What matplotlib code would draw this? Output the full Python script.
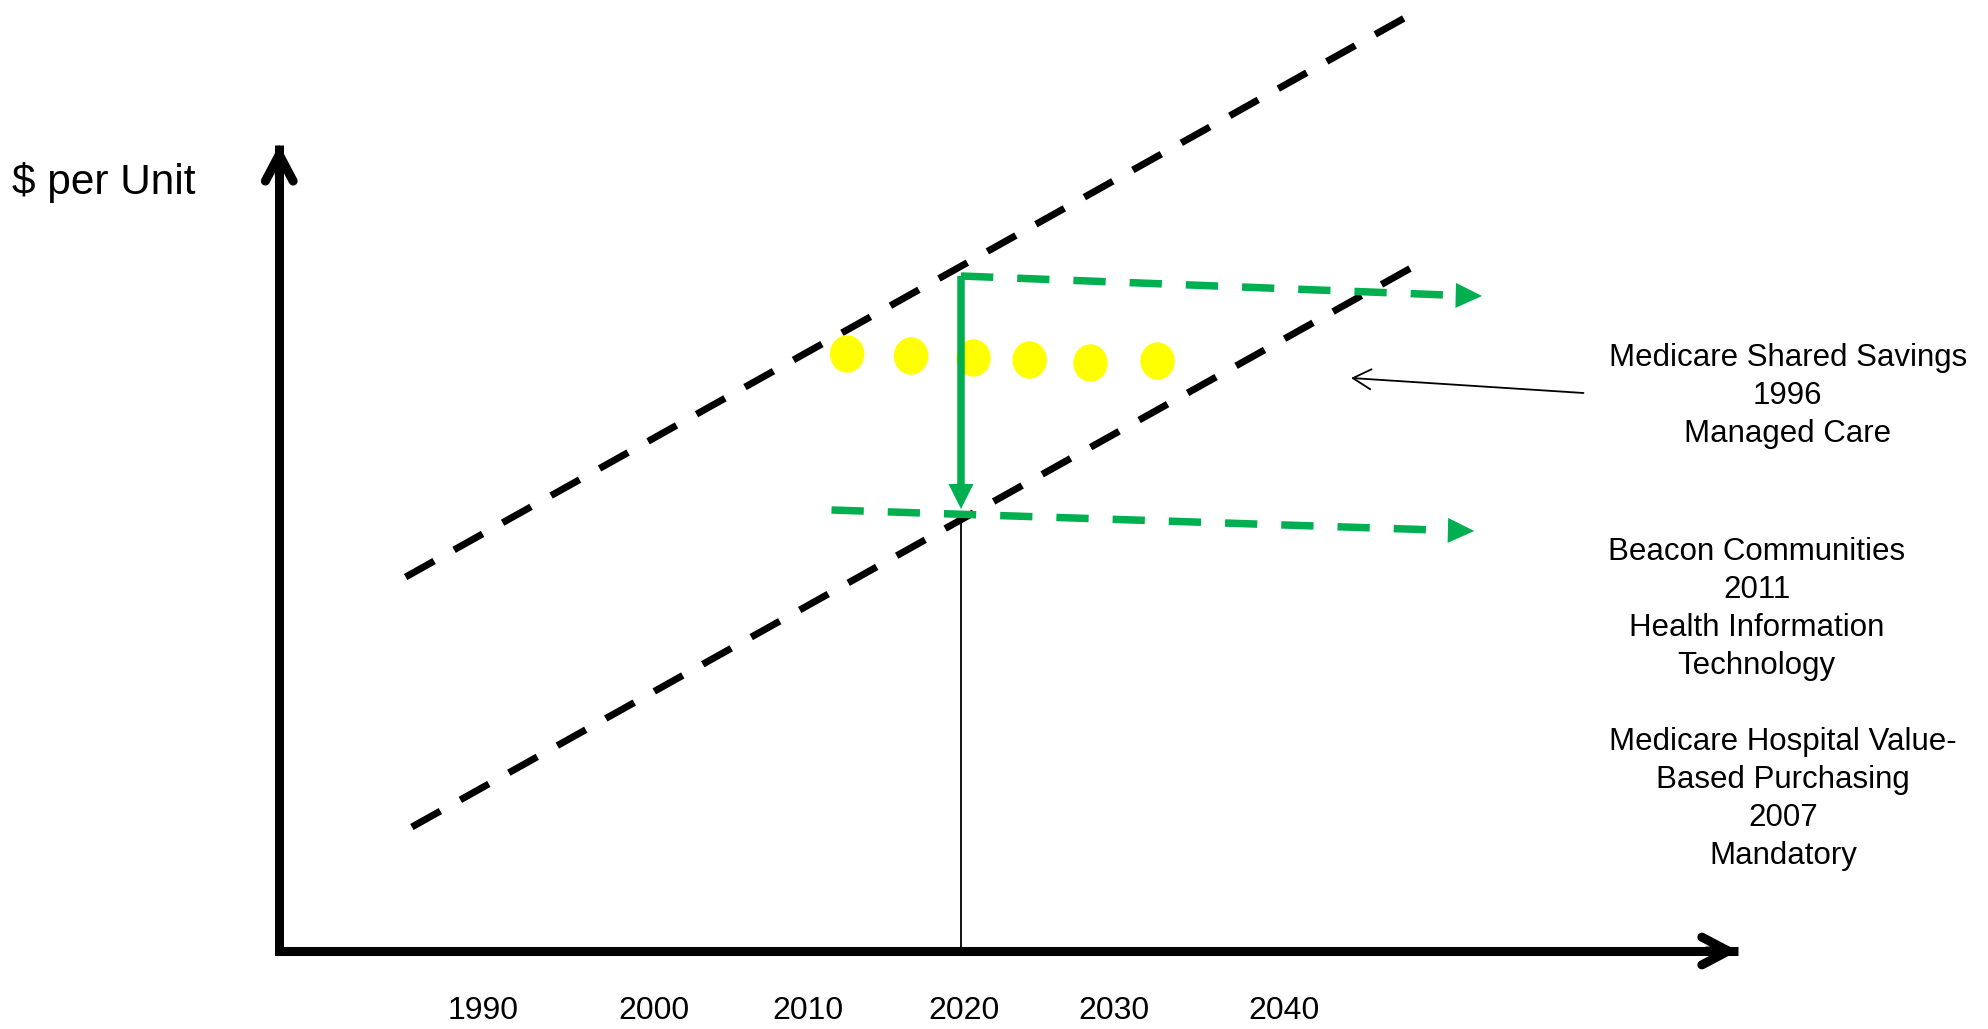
import matplotlib
matplotlib.use("Agg")
import matplotlib.pyplot as plt
from matplotlib.patches import Ellipse

plt.rcParams["font.family"] = ["Liberation Sans", "DejaVu Sans"]

# -*- values (x in years, y in arbitrary $ per unit)
years = [1990, 2000, 2010, 2020, 2030, 2040]
year_label_x = [1989.4, 2000.3, 2010.2, 2020.2, 2029.8, 2040.7]
origin_year = 1976.3
axis_end_year = 2069.8
axis_top = 80.6

# two parallel cost trend lines (start/end year and value)
trend_years = [1984.4, 2049.0]
trend_high = [37.4, 93.8]
trend_low_years = [1984.8, 2049.3]
trend_low = [12.4, 68.7]

# green: drop from high to low trend in 2020, then flattened paths
drop_year = 2020
drop_from, drop_to = 67.5, 44.2
flat_high_years = [2020, 2053.4]
flat_high = [67.5, 65.5]
flat_low_years = [2011.7, 2052.9]
flat_low = [44.1, 42.0]

# yellow dots
dot_years = [2012.7, 2016.8, 2020.8, 2024.4, 2028.3, 2032.6]
dot_vals = [59.7, 59.5, 59.3, 59.1, 58.8, 59.0]

# pointer arrow to the programme list
pointer_tail = (2059.9, 55.8)
pointer_tip = (2045.0, 57.3)

programmes = [
    "Medicare Shared Savings\n1996\nManaged Care",
    "Beacon Communities\n2011\nHealth Information\nTechnology",
    "Medicare Hospital Value-\nBased Purchasing\n2007\nMandatory",
]
programme_x = [2073.0, 2071.0, 2072.7]
programme_y = [55.5, 34.2, 15.2]

GREEN = "#00B050"
YELLOW = "#FFFF00"

fig = plt.figure(figsize=(19.88, 10.29), dpi=100)
ax = fig.add_axes([0, 0, 1, 1])
ax.set_xlim(1958.4, 2085.83)
ax.set_ylim(-7.8, 95.1)
ax.axis("off")


def head(tail, tip, style, color, lw, **kw):
    ax.annotate("", xy=tip, xytext=tail,
                arrowprops=dict(arrowstyle=style, color=color, lw=lw,
                                shrinkA=0, shrinkB=0, mutation_scale=20, **kw))


# axes with open arrow heads
ax.plot([origin_year, origin_year, axis_end_year], [axis_top, 0, 0],
        color="black", lw=6.5, solid_joinstyle="miter", solid_capstyle="butt")
head((origin_year, axis_top - 3), (origin_year, axis_top), "->,head_length=0.95,head_width=0.5",
     "black", 6.5, capstyle="round", joinstyle="miter")
head((axis_end_year - 2, 0), (axis_end_year, 0), "->,head_length=0.95,head_width=0.5",
     "black", 6.5, capstyle="round", joinstyle="miter")

# dashed trend lines
ax.plot(trend_years, trend_high, color="black", lw=5, dashes=(4.7, 3.3))
ax.plot(trend_low_years, trend_low, color="black", lw=5, dashes=(4.7, 3.3))

# thin marker at 2020
ax.plot([drop_year, drop_year], [0, drop_to - 0.6], color="black", lw=1.3)

# yellow dots
for x, y in zip(dot_years, dot_vals):
    ax.add_patch(Ellipse((x, y), 2.12, 3.6, color=YELLOW, zorder=3))

# green drop arrow
ax.plot([drop_year, drop_year], [drop_from, drop_to + 2.0], color=GREEN, lw=5.4,
        solid_capstyle="butt", zorder=4)
head((drop_year, drop_to + 2.6), (drop_year, drop_to), "-|>,head_length=0.9,head_width=0.45",
     GREEN, 0, zorder=4)

# green flattened paths
for xs, ys in [(flat_high_years, flat_high), (flat_low_years, flat_low)]:
    ax.plot([xs[0], xs[1] - 1.5], [ys[0], ys[1] + 0.05], color=GREEN, lw=5.4,
            dashes=(4.3, 3.2), zorder=4)
    head((xs[1] - 1.7, ys[1] + 0.06), (xs[1], ys[1]), "-|>,head_length=0.95,head_width=0.45",
         GREEN, 0, zorder=4)

# pointer arrow
head(pointer_tail, pointer_tip, "->,head_length=0.65,head_width=0.36", "black", 1.3)

# texts
ax.text(1959.2, 75.7, "$ per Unit", fontsize=30.5, ha="left", va="baseline")
for yr, x in zip(years, year_label_x):
    ax.text(x, -6.8, str(yr), fontsize=23, ha="center", va="baseline")
for txt, x, y in zip(programmes, programme_x, programme_y):
    ax.text(x, y, txt, fontsize=22.5, ha="center", va="center",
            multialignment="center", linespacing=1.35)

fig.savefig("out.png", dpi=100)
